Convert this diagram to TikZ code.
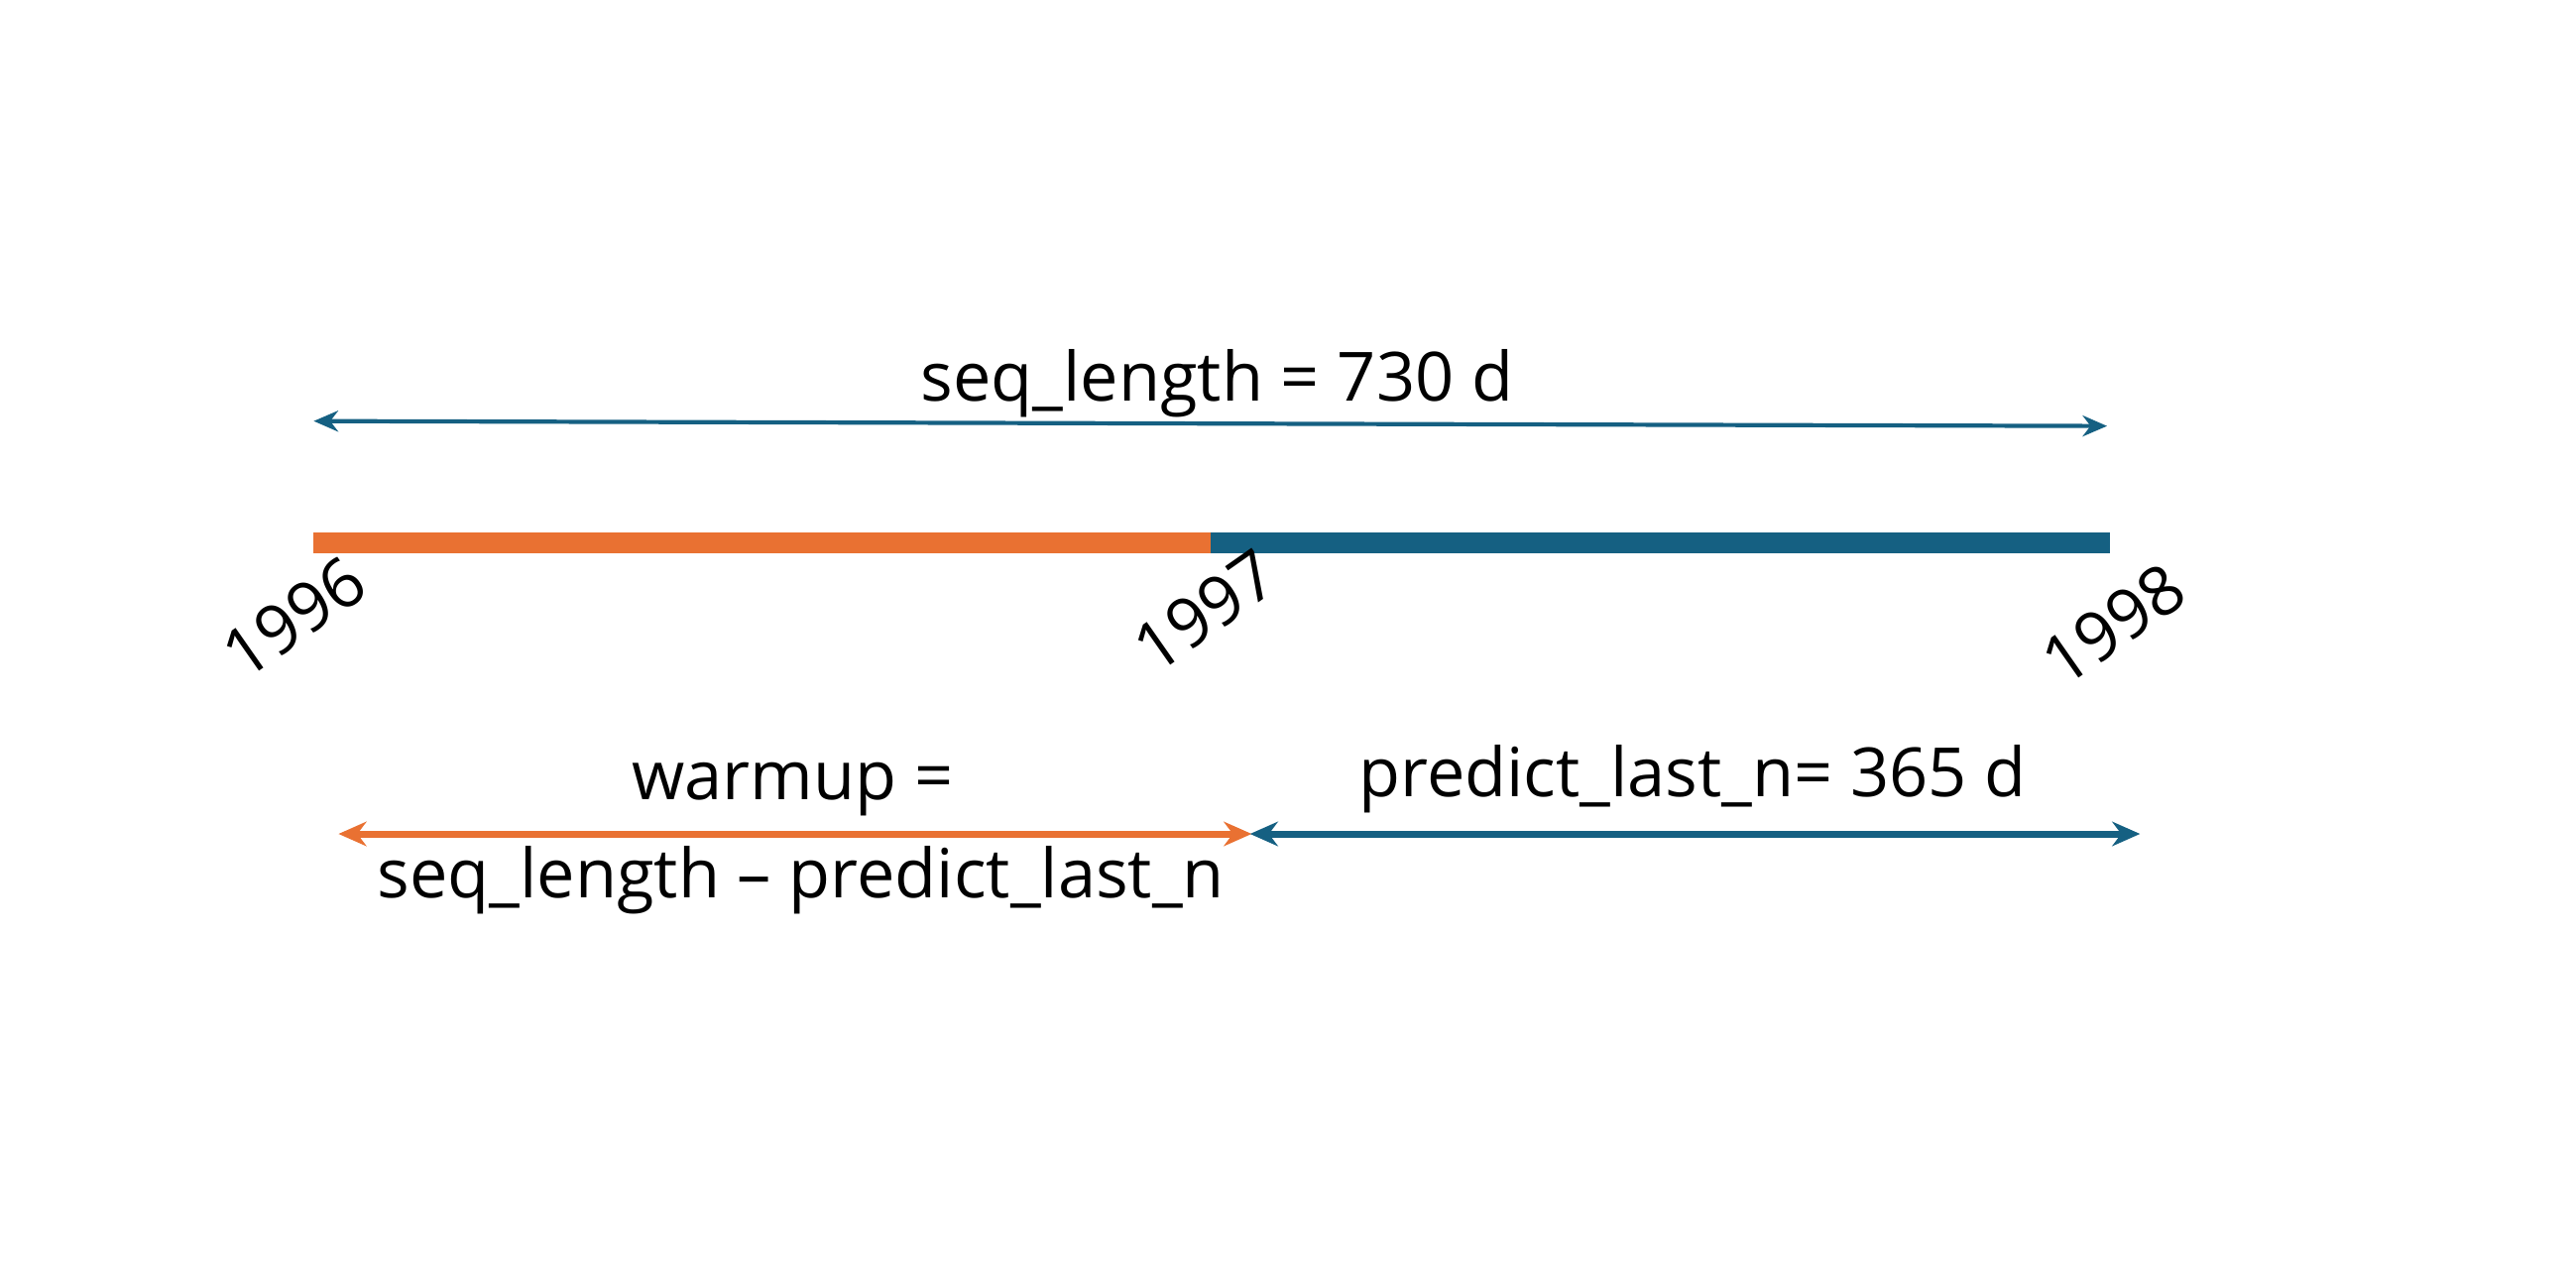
\documentclass[tikz,border=0pt]{standalone}
\usepackage{fontspec}
\setmainfont{Open Sans}
\usetikzlibrary{arrows.meta}
\definecolor{warmorange}{RGB}{233, 113, 50}
\definecolor{seqblue}{RGB}{21, 96, 130}

\begin{document}
\begin{tikzpicture}[x=0.016667cm, y=-0.016667cm]
    % Define styles
    \tikzset{
        lbl/.style={font=\fontsize{19.5}{22}\selectfont, inner sep=1pt},
        yearlbl/.style={font=\fontsize{19.5}{22}\selectfont, rotate=35, inner sep=0pt},
        thinarrow/.style={{Stealth[length=7pt,width=6pt]}-{Stealth[length=7pt,width=6pt]}, line width=1.2pt},
        thickarrow/.style={{Stealth[length=8pt,width=7pt]}-{Stealth[length=8pt,width=7pt]}, line width=2pt}
    }
    \useasboundingbox (0,0) rectangle (1560,780);

    % Timeline points
    \coordinate (start) at (190,329);
    \coordinate (mid) at (733,329);
    \coordinate (end) at (1278,329);
    \draw [warmorange, line width=6pt] (start) -- (mid);
    \draw [seqblue, line width=6pt] (mid) -- (end);

    % Years
    \node [yearlbl] (y1996) at (178,374) {1996};
    \node [yearlbl] (y1997) at (730,370) {1997};
    \node [yearlbl] (y1998) at (1280,378) {1998};

    % Sequence length
    \coordinate (seqL) at (190,255);
    \coordinate (seqR) at (1276,258);
    \draw [thinarrow, seqblue] (seqL) -- (seqR);
    \node [lbl] (seqlabel) at (737,232) {seq\_length = 730 d};

    % Warmup and prediction
    \coordinate (warmL) at (205,505);
    \coordinate (warmR) at (758,505);
    \coordinate (predL) at (757,505);
    \coordinate (predR) at (1296,505);
    \draw [thickarrow, warmorange] (warmL) -- (warmR);
    \draw [thickarrow, seqblue] (predL) -- (predR);
    \node [lbl] (warmup) at (480,478) {warmup =};
    \node [lbl] (warmdef) at (485,533) {seq\_length -- predict\_last\_n};
    \node [lbl] (predlabel) at (1025,472) {predict\_last\_n= 365 d};
\end{tikzpicture}
\end{document}
